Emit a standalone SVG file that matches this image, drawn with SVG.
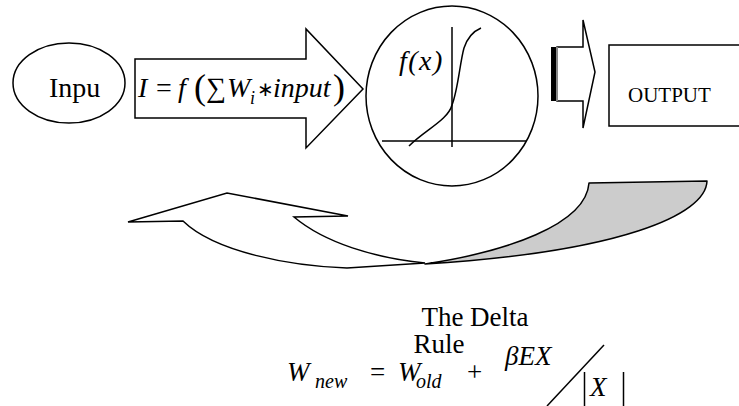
<svg xmlns="http://www.w3.org/2000/svg" width="739" height="406" viewBox="0 0 739 406">
<style>
.s{fill:#fff;stroke:#000;stroke-width:1.5}
.ln{fill:none;stroke:#000;stroke-width:1.5}
text{fill:#000}
.f{font-family:"Liberation Serif","Times New Roman",serif}
.i{font-style:italic}
</style>
<rect width="739" height="406" fill="#fff"/>
<g id="input">
<ellipse class="s" cx="69" cy="83" rx="56" ry="40"/>
<text class="f" x="49" y="97" font-size="28">Inpu</text>
</g>
<g id="sum-arrow">
<path class="s" d="M135,59 L306,59 L306,29 L363,89 L306,148 L306,118 L135,118 Z"/>
<text class="f i" x="138" y="97" font-size="28">I</text>
<text class="f" x="156" y="97" font-size="28">=</text>
<text class="f i" x="178" y="97" font-size="28">f</text>
<text class="f" x="194" y="99" font-size="36">(</text>
<text class="f" x="206" y="97" font-size="28">∑</text>
<text class="f i" x="227" y="97" font-size="28">W</text>
<text class="f i" x="250" y="104" font-size="18">i</text>
<text class="f" x="257" y="96" font-size="20">∗</text>
<text class="f i" x="273" y="97" font-size="28">input</text>
<text class="f" x="333" y="99" font-size="36">)</text>
</g>
<g id="activation">
<ellipse class="s" cx="452" cy="96" rx="86" ry="90"/>
<line class="ln" x1="452" y1="27" x2="452" y2="147"/>
<line class="ln" x1="382" y1="141" x2="526" y2="141"/>
<path class="ln" d="M409,146 C425,130 448,120 452,105 C458,90 460,62 464,48 C468,36 474,31 481,28"/>
<text class="f i" x="399" y="70" font-size="28" letter-spacing="1.5">f(x)</text>
</g>
<g id="connectors">
<g id="out-arrow">
<path class="s" d="M557,47 L583,47 L583,20 L595,72 L583,128 L583,101 L557,101 Z"/>
<rect x="551" y="47" width="5" height="54" fill="#000"/>
<rect x="556" y="47" width="2" height="54" fill="#888"/>
</g>
<g id="feedback-arrow">
<path class="s" d="M128,222 L227,193 L348,216 L294,217 C325,243 375,258 425,263 L347,268 C290,266 215,252 183,221 Z"/>
<path d="M589,183 L707,181 C706,215 620,252 425,264 C505,252 586,225 589,183 Z" fill="#cccccc" stroke="#000" stroke-width="1.5" stroke-linejoin="round"/>
</g>
</g>
<g id="output">
<rect class="s" x="609" y="45" width="140" height="81"/>
<text class="f" x="628" y="102" font-size="21">OUTPUT</text>
</g>
<g id="delta-rule">
<text class="f" x="475" y="326" font-size="27" text-anchor="middle">The Delta</text>
<text class="f" x="439" y="353" font-size="27" text-anchor="middle">Rule</text>
<text class="f i" x="287" y="381" font-size="27">W</text>
<text class="f i" x="315" y="388" font-size="20">new</text>
<text class="f" x="370" y="381" font-size="27">=</text>
<text class="f i" x="398" y="381" font-size="27">W</text>
<text class="f i" x="416" y="388" font-size="20">old</text>
<text class="f" x="467" y="381" font-size="27">+</text>
<text class="f i" x="505" y="365" font-size="27">βEX</text>
<line class="ln" x1="547" y1="406" x2="604" y2="345"/>
<line class="ln" x1="584.5" y1="372" x2="584.5" y2="406"/>
<line class="ln" x1="623.5" y1="372" x2="623.5" y2="406"/>
<text class="f i" x="590" y="396" font-size="27">X</text>
</g>
</svg>
